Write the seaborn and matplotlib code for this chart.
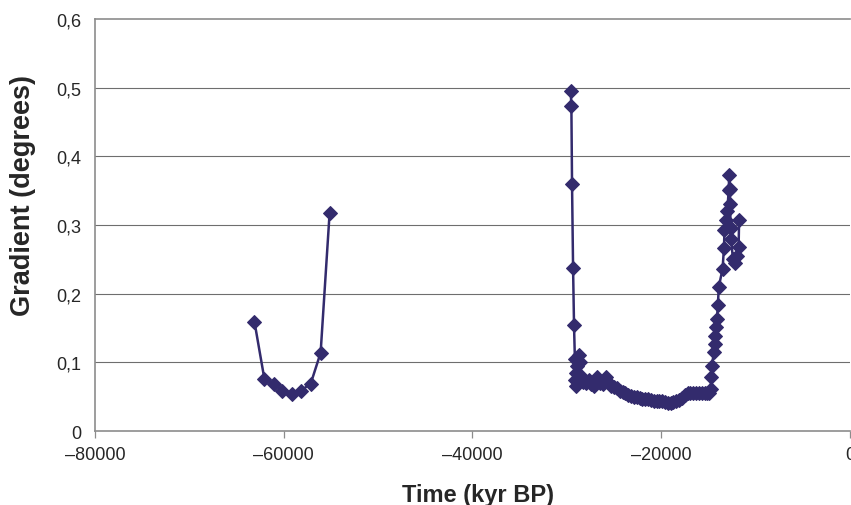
import numpy as np
import pandas as pd
import matplotlib
matplotlib.use("Agg")
import matplotlib.pyplot as plt
import seaborn as sns

# Segment 1 (older record)
time_a = [-63100, -62050, -61080, -60130, -59150, -58160, -57140, -56090, -55140]
grad_a = [0.159, 0.076, 0.069, 0.059, 0.054, 0.059, 0.069, 0.114, 0.317]

# Segment 2 (younger record)
time_b = [-29590, -29520, -29450, -29340, -29240, -29150, -29100, -29050, -29000,
          -28900, -28750, -28600, -28450, -28300, -28000, -27700, -27400, -27100,
          -26800, -26500, -26200, -25900, -25600, -25300, -25000, -24700, -24400,
          -24100, -23800, -23500, -23200, -22900, -22600, -22300, -22000, -21700,
          -21400, -21100, -20800, -20500, -20200, -19900, -19600, -19300, -19000,
          -18700, -18400, -18100, -17800, -17500, -17200, -16900, -16600, -16300,
          -16000, -15700, -15400, -15100, -14900, -14750, -14700, -14650, -14400,
          -14350, -14250, -14150, -14100, -14000, -13900, -13500, -13350, -13300,
          -13150, -13000, -12850, -12800, -12750, -12700, -12650, -12600, -12400,
          -12200, -12000, -11800, -11750]
grad_b = [0.495, 0.473, 0.359, 0.237, 0.154, 0.105, 0.075, 0.065, 0.085,
          0.095, 0.110, 0.100, 0.080, 0.072, 0.070, 0.075, 0.068, 0.065,
          0.078, 0.070, 0.068, 0.078, 0.072, 0.066, 0.064, 0.062, 0.059,
          0.057, 0.055, 0.053, 0.051, 0.050, 0.049, 0.048, 0.047, 0.046,
          0.046, 0.045, 0.044, 0.044, 0.043, 0.043, 0.042, 0.041, 0.041,
          0.042, 0.043, 0.045, 0.048, 0.052, 0.055, 0.056, 0.055, 0.055,
          0.055, 0.055, 0.055, 0.055, 0.056, 0.061, 0.078, 0.095, 0.115,
          0.127, 0.139, 0.151, 0.163, 0.183, 0.210, 0.236, 0.267, 0.292,
          0.307, 0.320, 0.351, 0.373, 0.353, 0.330, 0.295, 0.280, 0.250,
          0.244, 0.255, 0.268, 0.308]

x_ticks = [-80000, -60000, -40000, -20000, 0]
x_tick_labels = ["\u201380000", "\u201360000", "\u201340000", "\u201320000", "0"]
y_ticks = [0, 0.1, 0.2, 0.3, 0.4, 0.5, 0.6]
y_tick_labels = ["0", "0,1", "0,2", "0,3", "0,4", "0,5", "0,6"]

df = pd.DataFrame({
    "time": time_a + time_b,
    "gradient": grad_a + grad_b,
    "segment": ["a"] * len(time_a) + ["b"] * len(time_b),
})

sns.set_style("white")
plt.rcParams["font.family"] = ["Liberation Sans", "DejaVu Sans"]

fig = plt.figure(figsize=(8.51, 5.06), dpi=100)
ax = fig.add_axes([0.1116, 0.1462, 0.8872, 0.8143])

color = "#332b6d"
sns.lineplot(data=df, x="time", y="gradient", units="segment", estimator=None,
             sort=False, color=color, linewidth=1.8, marker="D", markersize=7.5,
             markeredgecolor=color, markerfacecolor=color, ax=ax, legend=False)

ax.set_xlim(-80000, 0)
ax.set_ylim(0, 0.6)
ax.set_xticks(x_ticks)
ax.set_xticklabels(x_tick_labels, fontsize=13)
ax.set_yticks(y_ticks)
ax.set_yticklabels(y_tick_labels, fontsize=13)

for yv in y_ticks[1:-1]:
    ax.axhline(yv, color="#6e6e6e", linewidth=0.8, zorder=0)

for side in ["left", "bottom", "top"]:
    ax.spines[side].set_visible(True)
    ax.spines[side].set_color("#8c8c8c")
    ax.spines[side].set_linewidth(1.2)
ax.spines["right"].set_visible(False)

ax.tick_params(axis="x", which="major", direction="out", length=5, width=0.9,
               color="#8c8c8c", bottom=True, pad=6)
ax.tick_params(axis="y", which="major", length=0, pad=10)

ax.set_xlabel("Time (kyr BP)", fontsize=17, fontweight="bold")
ax.set_ylabel("Gradient (degrees)", fontsize=19.5, fontweight="bold")
ax.xaxis.label.set_va("center")
ax.yaxis.label.set_va("center")
ax.xaxis.set_label_coords(0.507, -0.153)
ax.yaxis.set_label_coords(-0.0954, 0.575)

fig.savefig("out.png", dpi=100)
